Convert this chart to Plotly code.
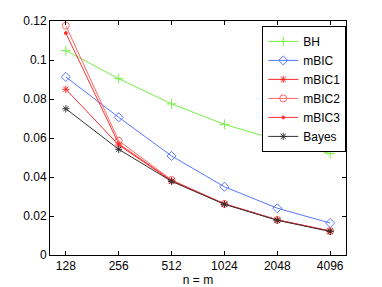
import plotly.graph_objects as go

n_labels = ["128", "256", "512", "1024", "2048", "4096"]
x_idx = [1, 2, 3, 4, 5, 6]

bh = [0.1048, 0.0904, 0.0775, 0.0670, 0.0590, 0.0520]
mbic = [0.0913, 0.0706, 0.0508, 0.0350, 0.0240, 0.0164]
mbic1 = [0.0850, 0.0564, 0.0380, 0.0262, 0.0180, 0.0123]
mbic2 = [0.1176, 0.0586, 0.0385, 0.0262, 0.0180, 0.0123]
mbic3 = [0.1138, 0.0570, 0.0382, 0.0262, 0.0180, 0.0123]
bayes = [0.0750, 0.0542, 0.0378, 0.0260, 0.0178, 0.0121]

y_ticks = [0, 0.02, 0.04, 0.06, 0.08, 0.1, 0.12]
y_tick_text = ["0", "0.02", "0.04", "0.06", "0.08", "0.1", "0.12"]

series = [
    ("BH", bh, "#77ee44", "cross-thin-open", 7),
    ("mBIC", mbic, "#5577ff", "diamond-open", 7),
    ("mBIC1", mbic1, "#ff2a2a", "asterisk-open", 6),
    ("mBIC2", mbic2, "#ff6666", "circle-open", 7),
    ("mBIC3", mbic3, "#ff3333", "circle", 3),
    ("Bayes", bayes, "#333333", "asterisk-open", 6),
]

fig = go.Figure()
for name, vals, color, sym, size in series:
    fig.add_trace(go.Scatter(
        x=x_idx, y=vals, name=name, mode="lines+markers",
        line=dict(color=color, width=1),
        marker=dict(symbol=sym, size=size, color=color,
                    line=dict(color=color, width=1)),
    ))

axis_common = dict(showline=True, linecolor="black", linewidth=1, mirror="allticks",
                   ticks="inside", ticklen=4, tickcolor="black", showgrid=False,
                   zeroline=False, automargin=False,
                   tickfont=dict(family="Liberation Sans", size=12, color="black"))

fig.update_layout(
    width=374, height=279,
    margin=dict(l=42, r=36, t=13, b=32),
    paper_bgcolor="white", plot_bgcolor="white",
    font=dict(family="Liberation Sans", size=12, color="black"),
    xaxis=dict(range=[0.7, 6.3], tickvals=x_idx, ticktext=n_labels,
               title=dict(text="n = m", standoff=0, font=dict(size=12)), **axis_common),
    yaxis=dict(range=[0, 0.12], tickvals=y_ticks, ticktext=y_tick_text, **axis_common),
    legend=dict(x=0.717, y=0.979, xanchor="left", yanchor="top",
                bgcolor="white", bordercolor="black", borderwidth=1,
                font=dict(size=12), tracegroupgap=0, itemwidth=30),
    showlegend=True,
)

fig.write_html("out.html")
